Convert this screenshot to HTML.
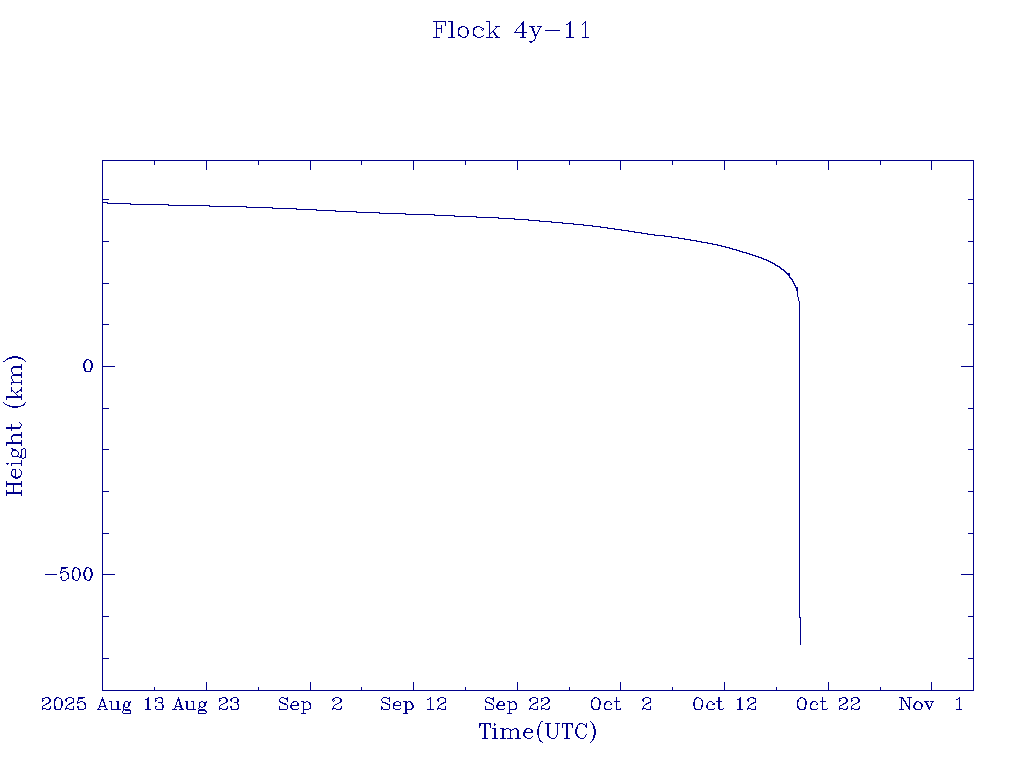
<!DOCTYPE html>
<html><head><meta charset="utf-8"><title>Flock 4y-11</title>
<style>html,body{margin:0;padding:0;background:#fff;font-family:"Liberation Sans",sans-serif}svg{display:block}</style>
</head><body><svg role="img" aria-label="Flock 4y-11: Height (km) versus Time(UTC)" width="1024" height="768" viewBox="0 0 1024 768" shape-rendering="crispEdges"><rect width="1024" height="768" fill="#fff"/><path fill="#00008b" d="M3 402h1v1h-1zM3 361h2v1h-2zM4 403h1v1h-1zM5 360h1v1h-1zM5 404h2v1h-2zM6 398h1v2h-1zM6 444h1v2h-1zM6 481h1v2h-1zM6 485h1v2h-1zM6 490h1v2h-1zM6 494h1v2h-1zM6 359h2v1h-2zM6 463h3v1h-3zM6 428h14v1h-14zM6 427h15v1h-15zM6 396h16v2h-16zM6 442h16v2h-16zM6 483h16v2h-16zM6 492h16v2h-16zM7 464h1v1h-1zM7 405h3v1h-3zM7 358h5v1h-5zM9 357h12v1h-12zM9 406h12v1h-12zM11 369h1v3h-1zM11 376h1v3h-1zM11 383h1v2h-1zM11 387h1v3h-1zM11 391h1v1h-1zM11 424h1v3h-1zM11 429h1v2h-1zM11 437h1v3h-1zM11 452h1v3h-1zM11 464h1v2h-1zM11 471h1v4h-1zM11 368h2v1h-2zM11 390h2v1h-2zM11 436h2v1h-2zM11 448h2v1h-2zM11 475h2v1h-2zM11 382h11v1h-11zM11 463h11v1h-11zM12 372h1v2h-1zM12 379h1v2h-1zM12 440h1v2h-1zM12 451h1v1h-1zM12 455h1v1h-1zM12 470h1v1h-1zM12 449h4v1h-4zM12 469h4v1h-4zM12 476h4v1h-4zM12 450h5v1h-5zM12 356h6v1h-6zM12 407h6v1h-6zM12 456h7v1h-7zM12 367h10v1h-10zM12 375h10v1h-10zM12 435h10v1h-10zM13 381h1v1h-1zM13 391h1v1h-1zM13 485h1v7h-1zM13 477h7v1h-7zM13 366h9v1h-9zM13 374h9v1h-9zM13 434h9v1h-9zM14 392h1v1h-1zM15 393h1v1h-1zM15 470h1v6h-1zM15 478h3v1h-3zM16 394h1v1h-1zM16 392h2v1h-2zM17 395h1v1h-1zM17 451h1v1h-1zM17 455h1v1h-1zM17 391h2v1h-2zM18 452h1v3h-1zM18 476h3v1h-3zM18 358h5v1h-5zM19 422h1v1h-1zM19 469h1v1h-1zM19 390h3v1h-3zM19 457h3v1h-3zM20 423h1v1h-1zM20 426h1v1h-1zM20 470h1v1h-1zM20 475h1v1h-1zM20 389h2v1h-2zM20 455h2v2h-2zM21 364h1v2h-1zM21 368h1v2h-1zM21 372h1v2h-1zM21 376h1v2h-1zM21 380h1v2h-1zM21 383h1v2h-1zM21 387h1v2h-1zM21 391h1v1h-1zM21 394h1v2h-1zM21 398h1v2h-1zM21 424h1v2h-1zM21 432h1v2h-1zM21 436h1v2h-1zM21 440h1v2h-1zM21 444h1v2h-1zM21 450h1v5h-1zM21 460h1v3h-1zM21 464h1v2h-1zM21 471h1v4h-1zM21 481h1v2h-1zM21 485h1v2h-1zM21 490h1v2h-1zM21 494h1v2h-1zM21 449h2v1h-2zM21 405h3v1h-3zM22 359h2v1h-2zM22 458h2v1h-2zM23 404h2v1h-2zM23 448h2v1h-2zM24 360h1v1h-1zM24 403h1v1h-1zM24 457h2v1h-2zM25 361h1v1h-1zM25 402h1v1h-1zM25 449h1v8h-1zM42 699h1v1h-1zM42 701h1v1h-1zM42 706h1v2h-1zM42 709h1v1h-1zM42 700h2v1h-2zM42 698h3v1h-3zM42 708h4v1h-4zM43 705h2v1h-2zM45 704h2v1h-2zM45 697h4v1h-4zM45 574h12v1h-12zM46 703h3v1h-3zM46 709h4v1h-4zM48 698h2v1h-2zM48 702h2v1h-2zM49 699h2v3h-2zM49 708h2v1h-2zM50 706h1v2h-1zM54 701h1v5h-1zM54 699h2v2h-2zM54 706h2v3h-2zM55 698h2v1h-2zM55 709h6v1h-6zM56 697h3v1h-3zM59 698h2v1h-2zM60 571h1v1h-1zM60 573h1v1h-1zM60 708h1v1h-1zM60 577h2v1h-2zM60 572h3v1h-3zM61 569h1v2h-1zM61 576h1v1h-1zM61 578h1v2h-1zM61 699h1v2h-1zM61 706h1v2h-1zM61 701h2v5h-2zM61 568h5v1h-5zM61 567h7v1h-7zM62 580h4v1h-4zM63 571h3v1h-3zM65 709h1v1h-1zM65 699h2v2h-2zM65 708h4v1h-4zM66 579h1v1h-1zM66 701h1v1h-1zM66 706h1v2h-1zM66 572h2v1h-2zM66 698h2v1h-2zM67 705h1v1h-1zM67 573h2v2h-2zM67 578h2v1h-2zM68 575h1v3h-1zM68 704h2v1h-2zM68 697h4v1h-4zM69 703h3v1h-3zM69 709h5v1h-5zM71 702h3v1h-3zM72 572h1v4h-1zM72 570h2v2h-2zM72 576h2v3h-2zM72 698h2v1h-2zM73 569h1v1h-1zM73 699h1v3h-1zM73 706h1v3h-1zM73 568h2v1h-2zM73 579h2v1h-2zM74 567h3v1h-3zM75 580h3v1h-3zM77 701h1v1h-1zM77 703h1v1h-1zM77 568h2v1h-2zM77 706h2v2h-2zM77 702h3v1h-3zM78 578h1v2h-1zM78 699h1v2h-1zM78 708h1v1h-1zM78 569h2v1h-2zM78 698h5v1h-5zM78 709h6v1h-6zM78 697h7v1h-7zM79 570h1v2h-1zM79 576h1v2h-1zM79 572h2v4h-2zM80 701h3v1h-3zM83 363h2v5h-2zM83 572h2v4h-2zM83 702h2v1h-2zM84 361h2v2h-2zM84 368h2v3h-2zM84 570h2v2h-2zM84 576h2v3h-2zM84 703h2v2h-2zM84 708h2v1h-2zM85 569h1v1h-1zM85 705h1v3h-1zM85 360h2v1h-2zM85 568h2v1h-2zM85 579h2v1h-2zM85 371h6v1h-6zM86 359h3v1h-3zM86 567h3v1h-3zM87 580h3v1h-3zM89 360h2v1h-2zM89 568h2v1h-2zM89 579h2v1h-2zM90 370h1v1h-1zM90 578h1v1h-1zM90 361h2v2h-2zM90 368h2v2h-2zM90 569h2v3h-2zM90 576h2v2h-2zM91 363h2v5h-2zM91 572h2v4h-2zM97 709h4v1h-4zM98 708h1v1h-1zM99 705h1v1h-1zM99 707h1v1h-1zM99 706h7v1h-7zM100 702h1v3h-1zM101 701h1v1h-1zM101 699h3v2h-3zM102 161h1v38h-1zM102 200h1v2h-1zM102 203h1v38h-1zM102 242h1v41h-1zM102 284h1v40h-1zM102 325h1v41h-1zM102 367h1v41h-1zM102 409h1v40h-1zM102 450h1v41h-1zM102 492h1v41h-1zM102 534h1v40h-1zM102 575h1v41h-1zM102 617h1v41h-1zM102 659h1v31h-1zM102 697h1v2h-1zM102 202h6v1h-6zM102 199h7v1h-7zM102 241h7v1h-7zM102 283h7v1h-7zM102 324h7v1h-7zM102 408h7v1h-7zM102 449h7v1h-7zM102 491h7v1h-7zM102 533h7v1h-7zM102 616h7v1h-7zM102 658h7v1h-7zM102 366h13v1h-13zM102 574h13v1h-13zM102 160h872v1h-872zM102 690h872v1h-872zM103 701h1v1h-1zM103 702h2v1h-2zM104 703h1v2h-1zM104 705h2v1h-2zM104 709h4v1h-4zM105 707h1v1h-1zM106 708h1v1h-1zM107 203h24v1h-24zM109 701h3v1h-3zM111 702h1v7h-1zM111 709h10v1h-10zM116 701h3v1h-3zM117 702h2v7h-2zM122 711h1v2h-1zM123 707h1v2h-1zM123 710h1v1h-1zM123 704h2v3h-2zM123 709h7v1h-7zM123 713h8v1h-8zM124 702h1v2h-1zM125 701h3v1h-3zM125 707h3v1h-3zM125 710h6v1h-6zM128 706h1v1h-1zM128 703h2v3h-2zM128 702h3v1h-3zM130 701h1v1h-1zM130 711h1v2h-1zM130 204h39v1h-39zM145 699h4v1h-4zM145 709h6v1h-6zM147 698h2v1h-2zM147 700h2v9h-2zM148 697h1v1h-1zM154 161h1v4h-1zM154 687h1v3h-1zM155 699h1v1h-1zM155 701h1v1h-1zM155 707h1v2h-1zM155 700h2v1h-2zM155 706h2v1h-2zM155 698h3v1h-3zM156 709h7v1h-7zM158 697h4v1h-4zM158 702h5v1h-5zM161 703h1v1h-1zM161 698h2v1h-2zM162 699h1v3h-1zM162 704h1v1h-1zM162 708h1v1h-1zM162 705h2v3h-2zM168 205h42v1h-42zM172 709h5v1h-5zM174 708h1v1h-1zM175 705h1v1h-1zM175 707h1v1h-1zM175 706h7v1h-7zM176 702h1v3h-1zM177 701h1v1h-1zM177 699h3v2h-3zM178 697h1v2h-1zM179 701h1v1h-1zM179 702h2v3h-2zM179 709h5v1h-5zM180 705h2v1h-2zM180 707h2v1h-2zM181 708h2v1h-2zM185 701h3v1h-3zM186 702h2v7h-2zM187 709h9v1h-9zM191 701h3v1h-3zM193 702h1v7h-1zM198 708h1v1h-1zM198 711h1v2h-1zM198 710h8v1h-8zM198 713h8v1h-8zM199 703h1v3h-1zM199 707h1v1h-1zM199 702h2v1h-2zM199 706h2v1h-2zM199 709h6v1h-6zM201 701h2v1h-2zM201 707h2v1h-2zM203 706h2v1h-2zM203 702h4v1h-4zM204 703h2v3h-2zM205 711h2v1h-2zM206 161h1v9h-1zM206 682h1v8h-1zM206 701h1v1h-1zM206 712h1v1h-1zM209 206h38v1h-38zM219 699h1v1h-1zM219 701h1v1h-1zM219 706h1v2h-1zM219 709h1v1h-1zM219 700h2v1h-2zM219 698h3v1h-3zM219 708h3v1h-3zM220 705h1v1h-1zM221 704h2v1h-2zM222 697h4v1h-4zM222 709h5v1h-5zM223 703h2v1h-2zM225 698h2v1h-2zM225 702h2v1h-2zM226 699h2v3h-2zM226 708h2v1h-2zM227 706h1v2h-1zM230 699h2v2h-2zM230 706h2v2h-2zM231 701h1v1h-1zM231 708h1v1h-1zM231 698h2v1h-2zM231 709h7v1h-7zM233 697h4v1h-4zM234 702h4v1h-4zM237 698h1v1h-1zM237 703h1v1h-1zM237 699h2v3h-2zM237 704h2v1h-2zM237 708h2v1h-2zM238 705h1v3h-1zM246 207h27v1h-27zM258 161h1v4h-1zM258 687h1v3h-1zM272 208h25v1h-25zM279 699h1v2h-1zM279 706h1v3h-1zM279 701h2v1h-2zM279 709h8v1h-8zM280 698h1v1h-1zM280 702h3v1h-3zM281 697h3v1h-3zM282 703h4v1h-4zM284 704h3v1h-3zM284 698h4v1h-4zM286 699h2v1h-2zM287 697h1v1h-1zM287 700h1v2h-1zM287 705h1v4h-1zM290 706h2v2h-2zM290 705h9v1h-9zM291 703h1v2h-1zM291 708h2v1h-2zM292 702h2v1h-2zM292 709h6v1h-6zM293 701h4v1h-4zM296 209h21v1h-21zM297 702h1v1h-1zM297 703h2v2h-2zM298 708h1v1h-1zM301 701h3v1h-3zM301 713h5v1h-5zM303 703h1v6h-1zM303 710h1v3h-1zM303 702h3v1h-3zM303 709h6v1h-6zM306 701h2v1h-2zM308 702h2v1h-2zM309 703h2v2h-2zM309 708h2v1h-2zM310 161h1v9h-1zM310 682h1v8h-1zM310 705h1v3h-1zM316 210h20v1h-20zM332 700h1v1h-1zM332 709h1v1h-1zM332 699h2v1h-2zM332 708h4v1h-4zM333 701h1v1h-1zM333 706h1v2h-1zM333 698h2v1h-2zM334 700h1v1h-1zM334 705h1v1h-1zM335 704h2v1h-2zM335 697h4v1h-4zM335 211h22v1h-22zM336 709h5v1h-5zM337 703h2v1h-2zM339 698h2v1h-2zM339 702h2v1h-2zM340 699h2v3h-2zM340 708h2v1h-2zM341 706h1v2h-1zM356 212h24v1h-24zM361 161h1v4h-1zM361 687h1v3h-1zM379 213h27v1h-27zM381 699h1v2h-1zM381 706h1v1h-1zM381 709h1v1h-1zM381 707h2v2h-2zM382 698h1v1h-1zM382 701h1v1h-1zM382 702h4v1h-4zM383 697h4v1h-4zM383 709h6v1h-6zM385 703h3v1h-3zM387 698h3v1h-3zM387 704h3v1h-3zM389 697h1v1h-1zM389 699h1v3h-1zM389 705h1v4h-1zM393 706h1v2h-1zM393 703h2v2h-2zM393 708h2v1h-2zM393 705h8v1h-8zM394 702h2v1h-2zM395 709h5v1h-5zM396 701h3v1h-3zM399 702h2v1h-2zM400 703h1v2h-1zM400 708h1v1h-1zM403 701h4v1h-4zM403 713h5v1h-5zM405 703h2v6h-2zM405 710h2v3h-2zM405 702h3v1h-3zM405 709h7v1h-7zM405 214h30v1h-30zM408 701h3v1h-3zM410 702h2v1h-2zM411 703h2v2h-2zM411 708h2v1h-2zM412 705h2v3h-2zM413 161h1v9h-1zM413 682h1v8h-1zM427 699h2v1h-2zM427 709h7v1h-7zM429 698h2v1h-2zM430 697h1v1h-1zM430 699h1v10h-1zM433 37h7v1h-7zM433 21h13v1h-13zM434 215h21v1h-21zM436 22h1v6h-1zM436 29h1v8h-1zM436 28h6v1h-6zM437 709h1v1h-1zM437 699h2v2h-2zM437 708h4v1h-4zM438 701h1v1h-1zM438 706h1v2h-1zM438 698h2v1h-2zM439 705h1v1h-1zM440 704h2v1h-2zM440 697h4v1h-4zM441 25h1v3h-1zM441 29h1v4h-1zM441 703h3v1h-3zM441 709h5v1h-5zM443 702h3v1h-3zM444 698h2v1h-2zM445 22h1v4h-1zM445 699h1v3h-1zM445 706h1v3h-1zM448 21h5v1h-5zM448 37h7v1h-7zM451 22h2v15h-2zM454 216h23v1h-23zM458 30h1v4h-1zM458 28h2v2h-2zM458 34h2v1h-2zM458 35h3v1h-3zM459 27h3v1h-3zM460 36h2v1h-2zM461 26h4v1h-4zM462 37h4v1h-4zM465 161h1v4h-1zM465 687h1v3h-1zM465 27h2v1h-2zM465 36h2v1h-2zM466 28h2v1h-2zM467 29h1v1h-1zM467 34h1v2h-1zM467 30h2v4h-2zM473 30h1v4h-1zM473 28h2v2h-2zM473 34h2v1h-2zM473 35h3v1h-3zM474 27h3v1h-3zM475 36h2v1h-2zM476 26h4v1h-4zM476 217h23v1h-23zM477 37h4v1h-4zM479 726h1v2h-1zM479 724h2v2h-2zM479 723h12v1h-12zM480 27h2v1h-2zM481 29h1v1h-1zM481 36h2v1h-2zM482 30h1v1h-1zM482 28h2v1h-2zM482 738h6v1h-6zM483 29h1v1h-1zM483 35h1v1h-1zM484 724h2v14h-2zM485 699h1v2h-1zM485 706h1v3h-1zM485 701h2v1h-2zM485 709h8v1h-8zM486 698h1v1h-1zM486 21h4v1h-4zM486 702h4v1h-4zM486 37h7v1h-7zM487 697h3v1h-3zM489 22h1v11h-1zM489 34h1v3h-1zM489 33h2v1h-2zM489 724h2v1h-2zM489 703h3v1h-3zM490 725h1v3h-1zM490 698h4v1h-4zM491 32h1v1h-1zM491 704h2v1h-2zM492 31h2v1h-2zM492 699h2v1h-2zM492 728h4v1h-4zM492 738h6v1h-6zM493 30h1v1h-1zM493 697h1v1h-1zM493 700h1v2h-1zM493 705h1v4h-1zM493 32h2v1h-2zM494 29h1v1h-1zM494 723h1v1h-1zM494 725h1v1h-1zM494 33h2v2h-2zM494 724h2v1h-2zM494 729h2v9h-2zM495 28h1v1h-1zM495 35h2v1h-2zM495 26h5v1h-5zM495 37h5v1h-5zM496 27h1v1h-1zM496 36h2v1h-2zM496 706h2v2h-2zM496 705h9v1h-9zM497 703h2v2h-2zM497 708h2v1h-2zM498 702h2v1h-2zM498 709h6v1h-6zM498 218h17v1h-17zM499 701h4v1h-4zM500 728h4v1h-4zM500 738h6v1h-6zM502 730h2v8h-2zM502 729h4v1h-4zM503 702h1v1h-1zM503 703h2v2h-2zM504 708h1v1h-1zM506 728h3v1h-3zM507 701h3v1h-3zM507 713h5v1h-5zM507 738h6v1h-6zM509 703h1v6h-1zM509 710h1v3h-1zM509 729h2v1h-2zM509 702h3v1h-3zM509 709h7v1h-7zM510 731h1v7h-1zM510 730h2v1h-2zM512 729h2v1h-2zM512 701h3v1h-3zM514 702h2v1h-2zM514 728h3v1h-3zM514 32h13v1h-13zM514 219h15v1h-15zM515 31h1v1h-1zM515 703h2v2h-2zM515 708h2v1h-2zM515 738h6v1h-6zM516 29h1v2h-1zM516 705h1v3h-1zM516 729h2v1h-2zM517 28h1v1h-1zM517 161h1v9h-1zM517 682h1v8h-1zM517 730h2v8h-2zM518 27h1v1h-1zM519 26h1v1h-1zM520 25h1v1h-1zM520 37h6v1h-6zM521 23h3v2h-3zM522 22h2v1h-2zM522 25h2v7h-2zM522 33h2v4h-2zM523 21h1v1h-1zM523 733h2v3h-2zM523 732h10v1h-10zM524 730h2v2h-2zM524 736h2v1h-2zM525 729h2v1h-2zM525 737h2v1h-2zM526 728h4v1h-4zM527 738h4v1h-4zM528 220h12v1h-12zM529 709h1v1h-1zM529 699h2v2h-2zM529 41h4v1h-4zM529 708h4v1h-4zM529 26h6v1h-6zM530 701h1v1h-1zM530 706h1v2h-1zM530 42h2v1h-2zM530 698h2v1h-2zM530 729h2v1h-2zM531 705h1v1h-1zM531 737h1v1h-1zM531 27h2v1h-2zM531 730h2v2h-2zM532 736h1v1h-1zM532 28h2v3h-2zM532 704h2v1h-2zM532 697h4v1h-4zM533 31h2v2h-2zM533 40h2v1h-2zM533 703h3v1h-3zM533 709h5v1h-5zM534 33h1v1h-1zM534 39h1v1h-1zM534 34h3v2h-3zM535 36h1v3h-1zM535 702h3v1h-3zM536 698h2v1h-2zM537 32h1v2h-1zM537 699h1v3h-1zM537 706h1v3h-1zM537 729h2v6h-2zM537 26h5v1h-5zM538 30h1v2h-1zM538 727h1v2h-1zM538 735h1v3h-1zM538 726h2v1h-2zM539 28h1v2h-1zM539 724h1v2h-1zM539 738h1v2h-1zM539 740h2v1h-2zM539 221h13v1h-13zM540 27h1v1h-1zM540 722h1v2h-1zM540 741h2v1h-2zM541 699h1v1h-1zM541 701h1v1h-1zM541 706h1v2h-1zM541 709h1v1h-1zM541 700h2v1h-2zM541 721h2v1h-2zM541 698h3v1h-3zM541 708h4v1h-4zM542 742h1v1h-1zM542 705h2v1h-2zM544 704h2v1h-2zM544 697h4v1h-4zM545 703h3v1h-3zM545 709h4v1h-4zM545 723h6v1h-6zM545 30h15v1h-15zM547 698h2v1h-2zM547 702h2v1h-2zM547 724h2v12h-2zM548 699h2v3h-2zM548 708h2v1h-2zM548 736h2v1h-2zM549 706h1v2h-1zM549 737h2v1h-2zM551 738h4v1h-4zM551 222h12v1h-12zM555 737h1v1h-1zM555 723h5v1h-5zM556 735h1v2h-1zM557 724h1v11h-1zM562 724h1v4h-1zM562 723h11v1h-11zM562 223h12v1h-12zM564 738h6v1h-6zM566 24h2v1h-2zM566 724h2v14h-2zM566 37h8v1h-8zM568 23h3v1h-3zM569 161h1v4h-1zM569 687h1v3h-1zM569 22h2v1h-2zM569 24h2v13h-2zM570 21h1v1h-1zM571 724h2v1h-2zM572 725h1v3h-1zM573 224h11v1h-11zM575 729h2v5h-2zM576 727h2v2h-2zM576 734h2v2h-2zM577 725h1v2h-1zM577 736h2v1h-2zM578 724h2v1h-2zM578 737h2v1h-2zM579 723h4v1h-4zM580 738h4v1h-4zM582 24h1v1h-1zM582 37h7v1h-7zM583 23h1v1h-1zM583 724h2v1h-2zM583 225h10v1h-10zM584 737h1v1h-1zM584 22h2v1h-2zM585 21h1v1h-1zM585 23h1v14h-1zM585 735h1v2h-1zM585 725h2v2h-2zM586 723h1v2h-1zM586 727h1v1h-1zM586 734h1v1h-1zM590 721h1v1h-1zM590 742h1v1h-1zM591 702h1v4h-1zM591 722h1v1h-1zM591 741h1v1h-1zM591 700h2v2h-2zM591 706h2v2h-2zM592 699h1v1h-1zM592 723h1v1h-1zM592 740h1v1h-1zM592 708h2v1h-2zM592 724h2v1h-2zM592 739h2v1h-2zM592 226h9v1h-9zM593 725h1v1h-1zM593 738h1v1h-1zM593 698h2v1h-2zM593 726h2v3h-2zM593 735h2v3h-2zM593 709h6v1h-6zM594 729h2v6h-2zM594 697h3v1h-3zM597 698h2v1h-2zM598 699h2v1h-2zM598 707h2v2h-2zM599 700h1v1h-1zM599 705h1v2h-1zM599 701h2v4h-2zM600 227h8v1h-8zM604 705h1v3h-1zM604 703h2v2h-2zM604 708h2v1h-2zM605 702h2v1h-2zM605 709h6v1h-6zM606 701h4v1h-4zM607 228h8v1h-8zM610 702h1v1h-1zM610 704h2v1h-2zM611 703h1v1h-1zM611 708h1v1h-1zM614 701h6v1h-6zM614 229h8v1h-8zM616 697h1v4h-1zM616 702h1v7h-1zM616 709h5v1h-5zM620 161h1v9h-1zM620 682h1v8h-1zM620 708h1v1h-1zM621 230h8v1h-8zM628 231h7v1h-7zM634 232h8v1h-8zM641 233h7v1h-7zM642 709h1v1h-1zM642 699h2v2h-2zM642 708h4v1h-4zM643 701h1v1h-1zM643 706h1v2h-1zM643 698h2v1h-2zM644 705h1v1h-1zM645 704h2v1h-2zM645 697h4v1h-4zM646 703h3v1h-3zM646 709h5v1h-5zM647 234h8v1h-8zM648 702h3v1h-3zM649 698h2v1h-2zM650 699h1v3h-1zM650 706h1v3h-1zM654 235h11v1h-11zM664 236h8v1h-8zM671 237h8v1h-8zM672 161h1v4h-1zM672 687h1v3h-1zM678 238h7v1h-7zM684 239h7v1h-7zM690 240h7v1h-7zM693 702h2v4h-2zM694 700h1v2h-1zM694 706h1v2h-1zM694 699h2v1h-2zM694 708h2v1h-2zM695 698h2v1h-2zM695 709h6v1h-6zM696 697h3v1h-3zM696 241h6v1h-6zM699 698h2v1h-2zM701 699h1v1h-1zM701 707h1v2h-1zM701 700h2v1h-2zM701 705h2v2h-2zM701 242h7v1h-7zM702 701h1v4h-1zM706 705h2v3h-2zM707 703h1v2h-1zM707 708h1v1h-1zM707 243h6v1h-6zM708 702h1v1h-1zM708 709h6v1h-6zM709 701h3v1h-3zM712 702h1v1h-1zM712 704h3v1h-3zM712 244h6v1h-6zM713 703h2v1h-2zM714 708h1v1h-1zM716 701h6v1h-6zM717 245h5v1h-5zM718 697h2v4h-2zM718 702h2v7h-2zM719 709h4v1h-4zM721 246h5v1h-5zM723 708h1v1h-1zM724 161h1v9h-1zM724 682h1v8h-1zM725 247h5v1h-5zM729 248h4v1h-4zM732 249h5v1h-5zM736 250h4v1h-4zM737 699h4v1h-4zM737 709h6v1h-6zM739 698h2v1h-2zM739 700h2v9h-2zM739 251h4v1h-4zM740 697h1v1h-1zM742 252h5v1h-5zM746 253h4v1h-4zM747 709h1v1h-1zM747 699h2v2h-2zM747 708h4v1h-4zM748 701h1v1h-1zM748 706h1v2h-1zM748 698h2v1h-2zM749 705h1v1h-1zM749 254h4v1h-4zM750 704h2v1h-2zM750 697h4v1h-4zM751 703h3v1h-3zM751 709h5v1h-5zM752 255h4v1h-4zM753 698h3v1h-3zM753 702h3v1h-3zM755 699h1v3h-1zM755 706h1v3h-1zM755 256h4v1h-4zM758 257h4v1h-4zM761 258h3v1h-3zM763 259h4v1h-4zM766 260h3v1h-3zM768 261h3v1h-3zM770 262h3v1h-3zM772 263h3v1h-3zM774 264h2v1h-2zM775 265h3v1h-3zM776 161h1v4h-1zM776 687h1v3h-1zM777 266h3v1h-3zM779 267h2v1h-2zM780 268h2v1h-2zM781 269h3v1h-3zM783 270h2v1h-2zM784 271h2v1h-2zM785 272h2v1h-2zM786 273h4v1h-4zM787 274h3v1h-3zM788 275h2v1h-2zM789 276h1v1h-1zM789 277h2v1h-2zM790 278h2v1h-2zM791 279h2v1h-2zM792 280h1v1h-1zM792 281h2v1h-2zM793 282h1v1h-1zM793 283h2v1h-2zM794 284h1v1h-1zM794 285h2v1h-2zM795 286h1v1h-1zM795 287h3v1h-3zM796 288h2v3h-2zM797 291h1v6h-1zM797 702h1v4h-1zM797 700h2v2h-2zM797 706h2v2h-2zM798 297h1v4h-1zM798 699h1v1h-1zM798 708h2v1h-2zM799 301h1v316h-1zM799 617h2v1h-2zM799 698h2v1h-2zM799 709h6v1h-6zM800 618h1v27h-1zM800 697h3v1h-3zM803 698h2v1h-2zM804 699h2v1h-2zM804 707h2v2h-2zM805 700h1v1h-1zM805 705h1v2h-1zM805 701h2v4h-2zM810 705h1v3h-1zM810 703h2v2h-2zM810 708h2v1h-2zM811 702h2v1h-2zM811 709h6v1h-6zM812 701h4v1h-4zM816 702h1v1h-1zM816 704h2v1h-2zM817 703h1v1h-1zM817 708h1v1h-1zM820 701h6v1h-6zM822 697h1v4h-1zM822 702h1v7h-1zM822 709h5v1h-5zM827 708h1v1h-1zM828 161h1v9h-1zM828 682h1v8h-1zM839 699h1v1h-1zM839 701h1v1h-1zM839 706h1v2h-1zM839 709h1v1h-1zM839 700h2v1h-2zM839 698h3v1h-3zM839 708h4v1h-4zM840 705h2v1h-2zM842 704h2v1h-2zM842 697h4v1h-4zM843 703h3v1h-3zM843 709h4v1h-4zM845 698h2v1h-2zM845 702h2v1h-2zM846 699h2v3h-2zM846 708h2v1h-2zM847 706h1v2h-1zM851 699h1v1h-1zM851 701h1v1h-1zM851 706h1v2h-1zM851 709h1v1h-1zM851 698h2v1h-2zM851 700h2v1h-2zM851 708h3v1h-3zM852 705h1v1h-1zM853 704h2v1h-2zM853 697h5v1h-5zM854 709h5v1h-5zM855 703h2v1h-2zM857 698h2v1h-2zM857 702h2v1h-2zM858 699h2v3h-2zM858 708h2v1h-2zM859 706h1v2h-1zM880 161h1v4h-1zM880 687h1v3h-1zM899 697h4v1h-4zM899 709h5v1h-5zM901 699h1v10h-1zM901 698h3v1h-3zM903 699h1v1h-1zM903 700h2v1h-2zM904 701h2v1h-2zM905 702h1v1h-1zM905 703h2v1h-2zM906 704h1v1h-1zM906 705h2v1h-2zM907 706h3v1h-3zM907 697h5v1h-5zM908 707h2v2h-2zM909 698h1v8h-1zM909 709h1v1h-1zM913 705h2v3h-2zM914 703h2v2h-2zM914 708h2v1h-2zM915 702h2v1h-2zM915 709h6v1h-6zM916 701h3v1h-3zM919 702h2v1h-2zM920 703h2v1h-2zM921 707h1v2h-1zM921 704h2v3h-2zM924 701h5v1h-5zM925 702h2v1h-2zM926 703h2v2h-2zM927 705h2v2h-2zM928 708h2v1h-2zM928 707h3v1h-3zM929 709h1v1h-1zM930 706h1v1h-1zM930 701h4v1h-4zM931 161h1v9h-1zM931 682h1v8h-1zM931 703h1v3h-1zM932 702h1v1h-1zM956 699h2v1h-2zM956 709h6v1h-6zM958 698h2v1h-2zM959 697h1v1h-1zM959 699h1v10h-1zM961 366h13v1h-13zM961 574h13v1h-13zM968 199h6v1h-6zM968 241h6v1h-6zM968 283h6v1h-6zM968 324h6v1h-6zM968 408h6v1h-6zM968 449h6v1h-6zM968 491h6v1h-6zM968 533h6v1h-6zM968 616h6v1h-6zM968 658h6v1h-6zM973 161h1v38h-1zM973 200h1v41h-1zM973 242h1v41h-1zM973 284h1v40h-1zM973 325h1v41h-1zM973 367h1v41h-1zM973 409h1v40h-1zM973 450h1v41h-1zM973 492h1v41h-1zM973 534h1v40h-1zM973 575h1v41h-1zM973 617h1v41h-1zM973 659h1v31h-1z"/></svg></body></html>
